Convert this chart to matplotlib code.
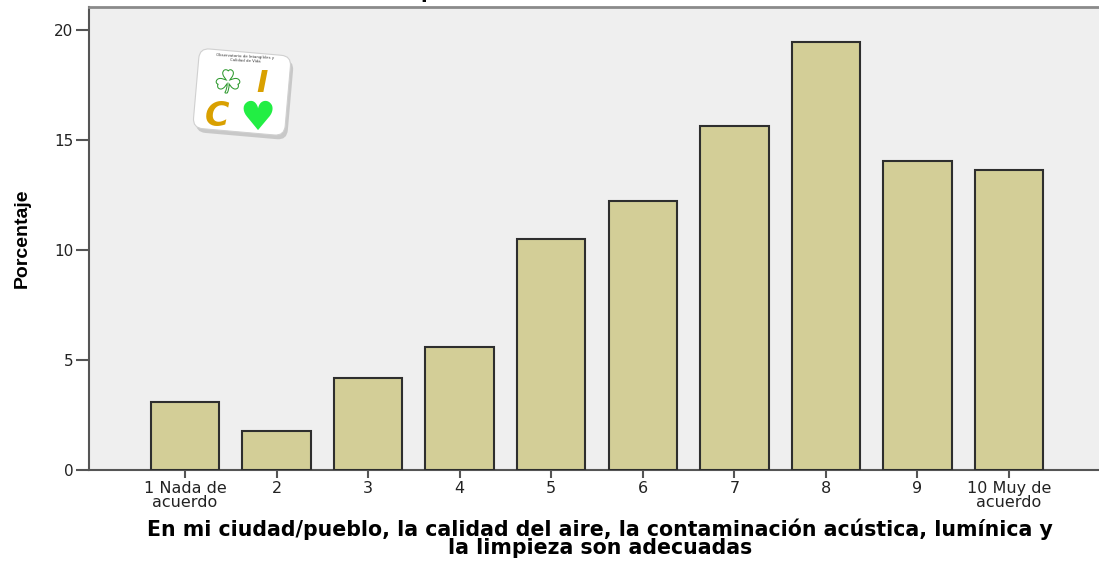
import numpy as np
import matplotlib
matplotlib.use('Agg')
import matplotlib.pyplot as plt
from matplotlib.patches import FancyBboxPatch
from matplotlib import transforms
import matplotlib.patheffects as pe

plt.rcParams['font.family'] = ['DejaVu Sans']

categories = ['1 Nada de\nacuerdo', '2', '3', '4', '5', '6', '7', '8', '9', '10 Muy de\nacuerdo']
porcentaje = [3.09, 1.77, 4.17, 5.61, 10.50, 12.22, 15.65, 19.47, 14.06, 13.64]
yticks = [0, 5, 10, 15, 20]

fig = plt.figure(figsize=(10.99, 5.61), dpi=100)
ax = fig.add_axes([89 / 1099, 91 / 561, 1010 / 1099, 463 / 561])
ax.set_facecolor('#efefef')

x = np.arange(1, len(categories) + 1)
ax.bar(x, porcentaje, width=0.747, color='#d3ce97', edgecolor='#2e2e2e', linewidth=1.5, zorder=3)

ax.set_xlim(-0.048, 10.983)
ax.set_ylim(0, 21.05)
ax.set_xticks(x)
ax.set_xticklabels(categories, fontsize=11.5, color='#222222', linespacing=0.92)
ax.set_yticks(yticks)
ax.set_yticklabels([str(v) for v in yticks], fontsize=11, color='#222222')
ax.tick_params(axis='x', length=6, width=1.5, color='#555555', pad=2)
ax.tick_params(axis='y', length=9.4, width=1.5, color='#555555', pad=2)

ax.spines['right'].set_visible(False)
for s in ['left', 'bottom', 'top']:
    ax.spines[s].set_color('#555555')
    ax.spines[s].set_linewidth(1.5)
ax.spines['top'].set_color('#8a8a8a')
ax.spines['top'].set_linewidth(2)

ax.set_ylabel('Porcentaje', fontsize=14, fontweight='bold', family='Liberation Sans')
ax.yaxis.set_label_coords(-0.058, 0.5)

fig.text(0.546, 1 - 518 / 561,
         'En mi ciudad/pueblo, la calidad del aire, la contaminación acústica, lumínica y\nla limpieza son adecuadas',
         fontsize=14.8, fontweight='bold', ha='center', va='top', linespacing=0.88)

# cut-off title fragment at the very top
fig.text(427 / 1099, 1 + 1.5 / 561, 'p', fontsize=14, fontweight='bold', ha='center', va='baseline')

# logo in the upper left
rot = transforms.Affine2D().rotate_deg_around(242, 469, -5)
shadow = FancyBboxPatch((199, 425), 92, 80, boxstyle='round,pad=0,rounding_size=10',
                        facecolor='#9a9a9a', edgecolor='none', alpha=0.45,
                        transform=rot, zorder=4)
logo = FancyBboxPatch((196, 429), 92, 80, boxstyle='round,pad=0,rounding_size=10',
                      facecolor='white', edgecolor='#d0d0d0', linewidth=0.8,
                      transform=rot, zorder=5)
fig.patches.extend([shadow, logo])
fig.text(245 / 1099, 1 - 59 / 561, 'Observatorio de Intangibles y\nCalidad de Vida', fontsize=2.8,
         ha='center', va='center', color='#333333', rotation=-3, zorder=6)
fig.text(228 / 1099, 1 - 84 / 561, '\u2618', fontsize=22, ha='center', va='center', color='white',
         path_effects=[pe.withStroke(linewidth=1.5, foreground='#2e9a2e')], zorder=6)
fig.text(262 / 1099, 1 - 83 / 561, 'I', fontsize=22, fontweight='bold', style='italic',
         ha='center', va='center', color='#d9a000', zorder=6)
fig.text(217 / 1099, 1 - 116 / 561, 'C', fontsize=24, fontweight='bold', style='italic',
         ha='center', va='center', color='#d9a000', zorder=6)
fig.text(257 / 1099, 1 - 119 / 561, '\u2665', fontsize=29, ha='center', va='center', color='#22ee44', zorder=6)

fig.savefig('out.png', dpi=100)
